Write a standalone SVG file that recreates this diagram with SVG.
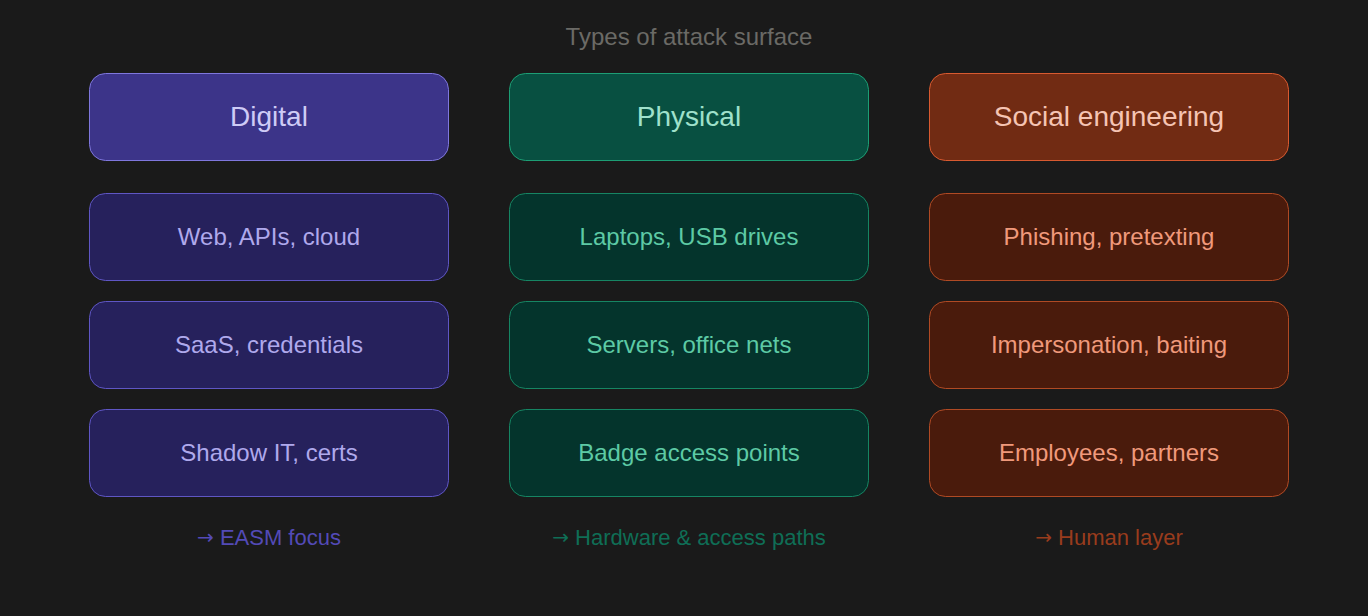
<svg xmlns="http://www.w3.org/2000/svg" width="1368" height="616" viewBox="0 0 1368 616">
<style>
text{font-family:"Liberation Sans",Arial,sans-serif;text-anchor:middle;dominant-baseline:central}
.title{font-size:24px;fill:#6b6a66}
.h{font-size:28px}
.b{font-size:24px}
.f{font-size:22px}
.ar{font-family:"DejaVu Sans",sans-serif;font-size:20px}
.pH rect{fill:#3c3489;stroke:#7f77dd}
.pH text{fill:#cecbf6}
.pB rect{fill:#26215c;stroke:#5f56c4}
.pB text{fill:#afa9ec}
.gH rect{fill:#085041;stroke:#1d9e75}
.gH text{fill:#9fe1cb}
.gB rect{fill:#04342c;stroke:#168563}
.gB text{fill:#5dcaa5}
.oH rect{fill:#712b13;stroke:#d85a30}
.oH text{fill:#f5c4b3}
.oB rect{fill:#4a1b0c;stroke:#b04a24}
.oB text{fill:#f0997b}
rect{stroke-width:1}
</style>
<rect width="1368" height="616" fill="#1a1a1a"/>
<text class="title" x="689" y="36">Types of attack surface</text>
<g id="digital" class="pH"><rect x="89.5" y="73.5" width="359" height="87" rx="16"/><text class="h" x="269" y="116.5">Digital</text></g>
<g id="digital-1" class="pB"><rect x="89.5" y="193.5" width="359" height="87" rx="16"/><text class="b" x="269" y="236.5">Web, APIs, cloud</text></g>
<g id="digital-2" class="pB"><rect x="89.5" y="301.5" width="359" height="87" rx="16"/><text class="b" x="269" y="344.5">SaaS, credentials</text></g>
<g id="digital-3" class="pB"><rect x="89.5" y="409.5" width="359" height="87" rx="16"/><text class="b" x="269" y="452.5">Shadow IT, certs</text></g>
<g id="physical" class="gH"><rect x="509.5" y="73.5" width="359" height="87" rx="16"/><text class="h" x="689" y="116.5">Physical</text></g>
<g id="physical-1" class="gB"><rect x="509.5" y="193.5" width="359" height="87" rx="16"/><text class="b" x="689" y="236.5">Laptops, USB drives</text></g>
<g id="physical-2" class="gB"><rect x="509.5" y="301.5" width="359" height="87" rx="16"/><text class="b" x="689" y="344.5">Servers, office nets</text></g>
<g id="physical-3" class="gB"><rect x="509.5" y="409.5" width="359" height="87" rx="16"/><text class="b" x="689" y="452.5">Badge access points</text></g>
<g id="social" class="oH"><rect x="929.5" y="73.5" width="359" height="87" rx="16"/><text class="h" x="1109" y="116.5">Social engineering</text></g>
<g id="social-1" class="oB"><rect x="929.5" y="193.5" width="359" height="87" rx="16"/><text class="b" x="1109" y="236.5">Phishing, pretexting</text></g>
<g id="social-2" class="oB"><rect x="929.5" y="301.5" width="359" height="87" rx="16"/><text class="b" x="1109" y="344.5">Impersonation, baiting</text></g>
<g id="social-3" class="oB"><rect x="929.5" y="409.5" width="359" height="87" rx="16"/><text class="b" x="1109" y="452.5">Employees, partners</text></g>
<g id="connectors"></g>
<text class="f" x="269" y="537" fill="#534ab7"><tspan class="ar">→</tspan> EASM focus</text>
<text class="f" x="689" y="537" fill="#0f6e56"><tspan class="ar">→</tspan> Hardware &amp; access paths</text>
<text class="f" x="1109" y="537" fill="#993c1d"><tspan class="ar">→</tspan> Human layer</text>
</svg>
